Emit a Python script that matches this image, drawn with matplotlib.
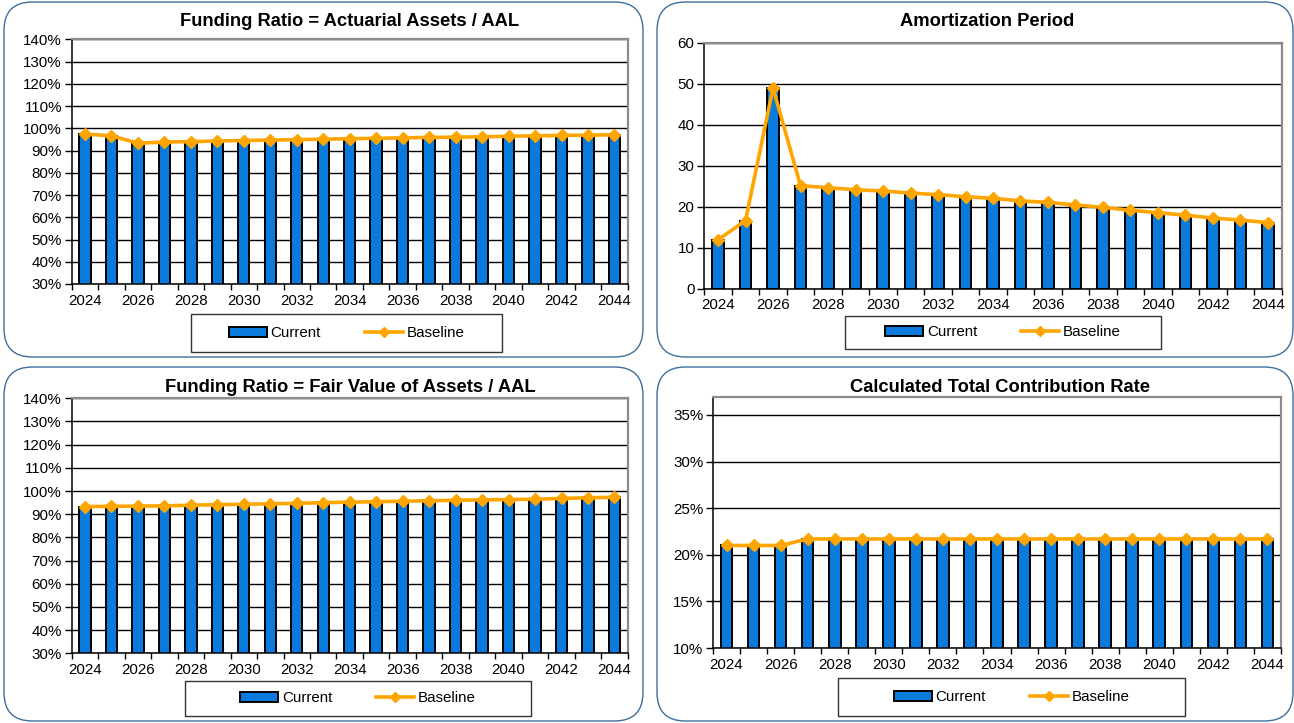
import matplotlib
matplotlib.use("Agg")
import matplotlib.pyplot as plt
from matplotlib.patches import FancyBboxPatch, Rectangle, Patch
from matplotlib.lines import Line2D
import numpy as np

plt.rcParams['font.family'] = ['Liberation Sans', 'DejaVu Sans']

years = list(range(2024, 2045))

fr_act_current = [97.4, 96.6, 93.3, 93.8, 94.0, 94.3, 94.5, 94.7, 94.9, 95.1, 95.3,
                  95.5, 95.7, 95.9, 96.0, 96.2, 96.4, 96.6, 96.8, 96.9, 97.1]
fr_act_baseline = [97.4, 96.6, 93.3, 93.8, 94.0, 94.3, 94.5, 94.7, 94.9, 95.1, 95.3,
                   95.5, 95.7, 95.9, 96.0, 96.2, 96.4, 96.6, 96.8, 96.9, 97.1]

amort_current = [11.9, 16.6, 48.9, 25.1, 24.6, 24.1, 23.8, 23.3, 22.9, 22.4, 22.0,
                 21.4, 21.0, 20.4, 19.8, 19.1, 18.5, 17.9, 17.2, 16.7, 16.1]
amort_baseline = [11.9, 16.6, 48.9, 25.1, 24.6, 24.1, 23.8, 23.3, 22.9, 22.4, 22.0,
                  21.4, 21.0, 20.4, 19.8, 19.1, 18.5, 17.9, 17.2, 16.7, 16.1]

fr_fair_current = [93.3, 93.4, 93.5, 93.6, 93.9, 94.1, 94.3, 94.5, 94.7, 95.0, 95.2,
                   95.4, 95.6, 95.8, 96.0, 96.2, 96.3, 96.5, 96.8, 97.1, 97.3]
fr_fair_baseline = [93.3, 93.4, 93.5, 93.6, 93.9, 94.1, 94.3, 94.5, 94.7, 95.0, 95.2,
                    95.4, 95.6, 95.8, 96.0, 96.2, 96.3, 96.5, 96.8, 97.1, 97.3]

contrib_current = [21.0, 21.0, 21.0, 21.7, 21.7, 21.7, 21.7, 21.7, 21.7, 21.7, 21.7,
                   21.7, 21.7, 21.7, 21.7, 21.7, 21.7, 21.7, 21.7, 21.7, 21.7]
contrib_baseline = [21.0, 21.0, 21.0, 21.7, 21.7, 21.7, 21.7, 21.7, 21.7, 21.7, 21.7,
                    21.7, 21.7, 21.7, 21.7, 21.7, 21.7, 21.7, 21.7, 21.7, 21.7]

titles = ["Funding Ratio = Actuarial Assets / AAL",
          "Amortization Period",
          "Funding Ratio = Fair Value of Assets / AAL",
          "Calculated Total Contribution Rate"]
series_labels = ["Current", "Baseline"]

W, H = 1294, 723
fig = plt.figure(figsize=(W / 100, H / 100), dpi=100)

BLUE = '#0A7ADC'
ORANGE = '#FFA500'


def fx(px):
    return px / W


def fy(py):
    return 1 - py / H


# panel borders (x0, y0, x1, y1) in pixels
panels = [(4, 2, 643, 357), (657, 2, 1293, 357), (4, 367, 643, 721), (657, 367, 1293, 721)]
for (x0, y0, x1, y1) in panels:
    p = FancyBboxPatch((fx(x0), fy(y1)), fx(x1 - x0), (y1 - y0) / H,
                       boxstyle="round,pad=0,rounding_size=0.022",
                       transform=fig.transFigure, facecolor='white',
                       edgecolor='#3E6F9C', linewidth=1.0, mutation_aspect=W / H,
                       zorder=-2)
    fig.patches.append(p)

# axes rects: left, top, right, bottom pixels
axes_px = [(71.7, 39.3, 627.7, 284.0),
           (704.3, 42.5, 1281.7, 288.6),
           (71.7, 398.3, 627.7, 653.3),
           (713.0, 397.0, 1281.0, 648.0)]

title_pos = [(350, 22), (987, 22), (350, 387), (1000, 387)]

legend_px = [(191, 314, 502, 352), (845, 316, 1161, 349),
             (185, 681, 531, 716), (838, 678, 1185, 716)]

data = [(fr_act_current, fr_act_baseline, (30, 140), np.arange(30, 141, 10), 'pct0'),
        (amort_current, amort_baseline, (0, 60), np.arange(0, 61, 10), 'num'),
        (fr_fair_current, fr_fair_baseline, (30, 140), np.arange(30, 141, 10), 'pct0'),
        (contrib_current, contrib_baseline, (10, 36.93), np.arange(10, 36, 5), 'pct0')]

x = np.arange(len(years))

for i in range(4):
    l, t, r, b = axes_px[i]
    ax = fig.add_axes([fx(l), fy(b), fx(r - l), (b - t) / H])
    cur, base, ylim, yticks, fmt = data[i]
    ax.set_axisbelow(True)
    ax.yaxis.grid(True, color='#000000', linewidth=1.0)
    ax.bar(x, cur, width=0.43, color=BLUE, edgecolor='black', linewidth=1.4, zorder=2)
    ax.plot(x, base, color=ORANGE, linewidth=2.6, marker='D', markersize=6.5,
            zorder=3, solid_joinstyle='round')
    ax.set_xlim(-0.5, len(years) - 0.5)
    ax.set_ylim(*ylim)
    ax.set_yticks(yticks)
    if fmt == 'pct0':
        ax.set_yticklabels([f"{v:.0f}%" for v in yticks])
    else:
        ax.set_yticklabels([f"{v:.0f}" for v in yticks])
    ax.set_xticks(np.arange(-0.5, len(years), 1.0))
    ax.set_xticklabels([])
    ax.set_xticks(x[::2], minor=True)
    ax.set_xticklabels([str(y) for y in years[::2]], minor=True)
    ax.tick_params(axis='x', which='major', length=4, width=1, direction='out', color='black')
    ax.tick_params(axis='x', which='minor', length=0, pad=7, labelsize=10.9)
    ax.tick_params(axis='y', length=5, width=1, direction='out', labelsize=10.9, pad=2)
    for s in ['left', 'bottom']:
        ax.spines[s].set_color('black')
        ax.spines[s].set_linewidth(1.1)
    for s in ['top', 'right']:
        ax.spines[s].set_color('#8C8C8C')
        ax.spines[s].set_linewidth(1.6)

    tx, ty = title_pos[i]
    fig.text(fx(tx), fy(ty), titles[i], ha='center', va='center',
             fontsize=13.2, fontweight='bold')

    lx0, ly0, lx1, ly1 = legend_px[i]
    rect = Rectangle((fx(lx0), fy(ly1)), fx(lx1 - lx0), (ly1 - ly0) / H,
                     transform=fig.transFigure, facecolor='white',
                     edgecolor='#333333', linewidth=1.0, zorder=-1)
    fig.patches.append(rect)
    handles = [Patch(facecolor=BLUE, edgecolor='black', linewidth=1.4),
               Line2D([0], [0], color=ORANGE, linewidth=2.6, marker='D', markersize=5)]
    ax.legend(handles, series_labels, loc='center', ncol=2, frameon=False,
              bbox_to_anchor=(fx((lx0 + lx1) / 2), fy((ly0 + ly1) / 2)),
              bbox_transform=fig.transFigure, fontsize=10.9,
              handlelength=2.5, handleheight=0.65, handletextpad=0.25,
              columnspacing=2.9, borderpad=0.2)

fig.savefig("out.png", dpi=100)
